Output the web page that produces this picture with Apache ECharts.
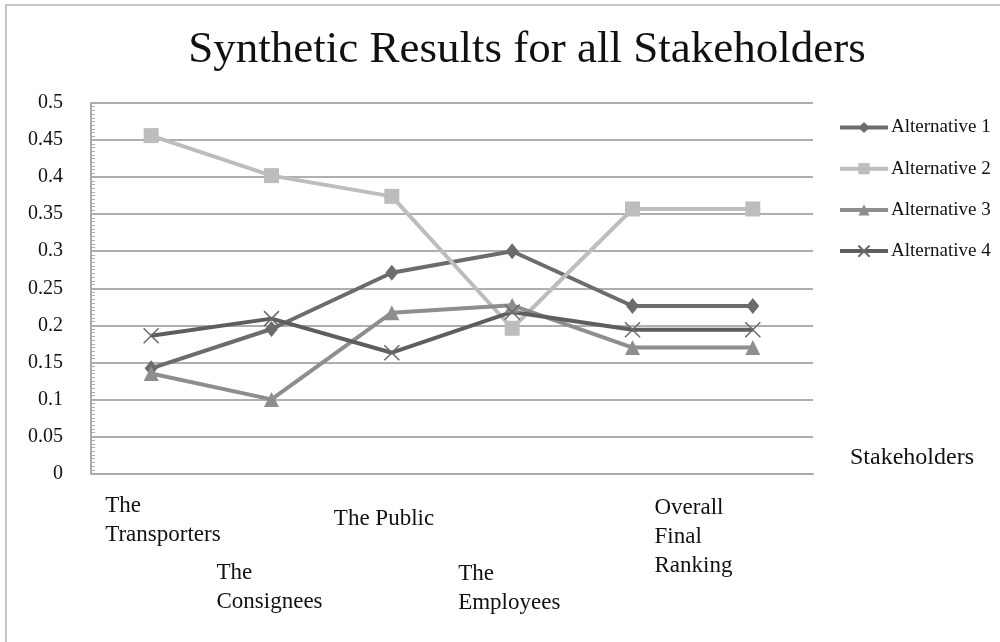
<!DOCTYPE html>
<html>
<head>
<meta charset="utf-8">
<script src="https://cdn.jsdelivr.net/npm/echarts@6/dist/echarts.min.js"></script>
<style>
  html, body { margin: 0; padding: 0; background: #fff; }
  #chart { width: 1000px; height: 642px; }
</style>
</head>
<body>
<div id="chart"></div>
<script>
// categories along the x axis (last one has no label)
const categories = ["The\nTransporters", "The\nConsignees", "The Public", "The\nEmployees", "Overall\nFinal\nRanking", ""];
const seriesNames = ["Alternative 1", "Alternative 2", "Alternative 3", "Alternative 4"];
const alt1 = [0.142, 0.195, 0.271, 0.300, 0.226, 0.226];
const alt2 = [0.456, 0.402, 0.374, 0.196, 0.357, 0.357];
const alt3 = [0.135, 0.100, 0.217, 0.227, 0.170, 0.170];
const alt4 = [0.186, 0.209, 0.163, 0.218, 0.194, 0.194];

// staggered label placement (offset from tick: dx, dy)
const labelLayout = [[-46, 18], [-55, 85], [-58, 31], [-54, 86], [22, 20], [0, 0]];

const serif = "Liberation Serif";
const crossPath = "path://M0,0L10,10M10,0L0,10";

let myChart = echarts.init(document.getElementById("chart"));

const mkSeries = (name, data, color, symbol, size, extra) => ({
  name: name,
  type: "line",
  data: data,
  symbol: symbol,
  symbolSize: size,
  lineStyle: { color: color, width: 4 },
  itemStyle: Object.assign({ color: color }, extra || {}),
  emphasis: { disabled: true }
});

myChart.setOption({
  animation: false,
  title: {
    text: "Synthetic Results for all Stakeholders",
    left: 522,
    top: 23,
    textAlign: "center",
    textStyle: { fontFamily: serif, fontWeight: "normal", fontSize: 45, color: "#111" }
  },
  legend: {
    orient: "vertical",
    left: 838,
    top: 118,
    padding: 0,
    itemWidth: 48,
    itemHeight: 14,
    itemGap: 22.2,
    lineStyle: { width: 4 },
    textStyle: { fontFamily: serif, fontSize: 19, color: "#111", padding: [0, 0, 0, -2] },
    data: seriesNames
  },
  grid: { left: 91, right: 187, top: 103, bottom: 168.5, containLabel: false },
  xAxis: {
    type: "category",
    data: categories.map((c, i) => ({
      value: c,
      textStyle: {
        align: "left",
        verticalAlign: "top",
        padding: [labelLayout[i][1], 0, 0, labelLayout[i][0]]
      }
    })),
    name: "Stakeholders",
    nameLocation: "end",
    nameGap: 37,
    nameTextStyle: { fontFamily: serif, fontSize: 24, color: "#111", verticalAlign: "bottom", padding: [0, 0, 4, 0] },
    axisLine: { lineStyle: { color: "#aaaaaa", width: 2 } },
    axisTick: { alignWithLabel: true, length: 3, lineStyle: { color: "#bbbbbb" } },
    axisLabel: {
      interval: 0,
      margin: 0,
      fontFamily: serif,
      fontSize: 23,
      lineHeight: 29,
      color: "#111"
    }
  },
  yAxis: {
    type: "value",
    min: 0,
    max: 0.5,
    interval: 0.05,
    axisLine: { show: true, lineStyle: { color: "#aaaaaa", width: 2 } },
    axisTick: { show: true, inside: true, length: 5, lineStyle: { color: "#aaaaaa" } },
    minorTick: { show: true, splitNumber: 10, length: 4, lineStyle: { color: "#aaaaaa" } },
    splitLine: { lineStyle: { color: "#afafaf", width: 2 } },
    axisLabel: {
      margin: 28,
      fontFamily: serif,
      fontSize: 20,
      color: "#111",
      formatter: v => String(Math.round(v * 100) / 100)
    }
  },
  graphic: [
    {
      type: "rect",
      shape: { x: 6, y: 5, width: 1010, height: 660 },
      style: { fill: "none", stroke: "#c4c4c4", lineWidth: 2 },
      silent: true
    }
  ],
  series: [
    mkSeries(seriesNames[0], alt1, "#6c6c6c", "diamond", [13, 16]),
    mkSeries(seriesNames[1], alt2, "#bdbdbd", "rect", 15),
    mkSeries(seriesNames[2], alt3, "#8e8e8e", "triangle", 15),
    mkSeries(seriesNames[3], alt4, "#5e5e5e", crossPath, 15, { borderColor: "#6a6a6a", borderWidth: 1.5 })
  ]
});
</script>
</body>
</html>
